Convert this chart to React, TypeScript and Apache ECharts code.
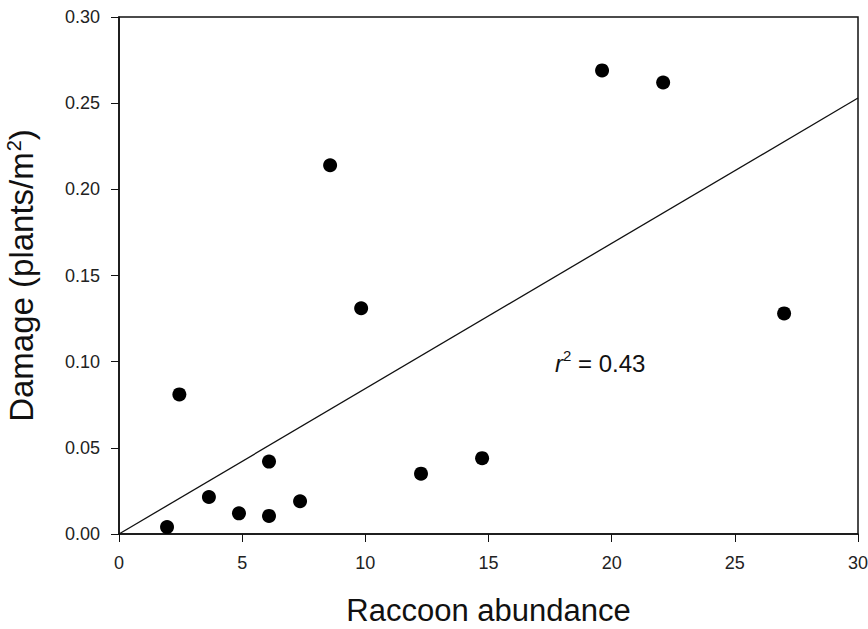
import React, { useEffect, useRef } from "react";
import * as echarts from "echarts";

const raccoonAbundance = [1.95, 2.45, 3.65, 4.87, 6.09, 6.09, 7.35, 8.57, 9.83, 12.26, 14.74, 19.61, 22.09, 27.0];
const damage = [0.004, 0.081, 0.0215, 0.012, 0.042, 0.0105, 0.019, 0.214, 0.131, 0.035, 0.044, 0.269, 0.262, 0.128];
const fitX = [0, 30];
const fitY = [0, 0.253];
const rSquared = "0.43";

export default function App() {
  const ref = useRef<HTMLDivElement>(null);
  useEffect(() => {
    document.body.style.margin = "0";
    const chart = echarts.init(ref.current!, null, { renderer: "svg" });
    const font = "'Liberation Sans', Arial, Helvetica, sans-serif";
    chart.setOption({
      animation: false,
      backgroundColor: "#ffffff",
      grid: {
        left: 119,
        right: 10,
        top: 17,
        bottom: 95,
        show: true,
        borderColor: "#111",
        borderWidth: 1.5,
        backgroundColor: "transparent",
        containLabel: false,
        outerBoundsMode: "none",
      },
      xAxis: {
        type: "value",
        min: 0,
        max: 30,
        interval: 5,
        name: "Raccoon abundance",
        nameLocation: "middle",
        nameGap: 61,
        nameTextStyle: { fontFamily: font, fontSize: 31, color: "#111" },
        axisLine: { show: true, lineStyle: { color: "#111", width: 1.5 } },
        axisTick: { show: true, inside: false, length: 8, lineStyle: { color: "#111" } },
        axisLabel: { fontFamily: font, fontSize: 18, color: "#222", margin: 20 },
        splitLine: { show: false },
      },
      yAxis: {
        type: "value",
        min: 0,
        max: 0.3,
        interval: 0.05,
        name: "Damage (plants/m{sup|2})",
        nameLocation: "middle",
        nameGap: 80,
        nameRotate: 90,
        nameTextStyle: {
          fontFamily: font,
          fontSize: 33,
          color: "#111",
          rich: {
            sup: { fontFamily: font, fontSize: 20, color: "#111", verticalAlign: "top", padding: [0, 0, 15, 1] },
          },
        },
        axisLine: { show: true, lineStyle: { color: "#111", width: 1.5 } },
        axisTick: { show: true, inside: false, length: 8, lineStyle: { color: "#111" } },
        axisLabel: {
          fontFamily: font,
          fontSize: 18,
          color: "#222",
          margin: 19,
          formatter: (v: number) => v.toFixed(2),
        },
        splitLine: { show: false },
      },
      series: [
        {
          type: "line",
          data: fitX.map((x, i) => [x, fitY[i]]),
          symbol: "none",
          lineStyle: { color: "#111", width: 1.3 },
          silent: true,
          z: 1,
        },
        {
          type: "scatter",
          data: raccoonAbundance.map((x, i) => [x, damage[i]]),
          symbol: "circle",
          symbolSize: 14,
          itemStyle: { color: "#000", opacity: 1 },
          z: 3,
        },
      ],
      graphic: [
        {
          type: "text",
          left: 555,
          top: 348,
          style: {
            text: "{i|r}{sup|2}{n| = " + rSquared + "}",
            rich: {
              i: { fontFamily: font, fontSize: 24, fontStyle: "italic", fill: "#111", verticalAlign: "bottom" },
              sup: { fontFamily: font, fontSize: 15, fill: "#111", verticalAlign: "top", padding: [0, 0, 12, 0] },
              n: { fontFamily: font, fontSize: 24, fill: "#111", verticalAlign: "bottom" },
            },
          },
        },
      ],
    });
    return () => chart.dispose();
  }, []);
  return <div ref={ref} style={{ width: 868, height: 629 }} />;
}
